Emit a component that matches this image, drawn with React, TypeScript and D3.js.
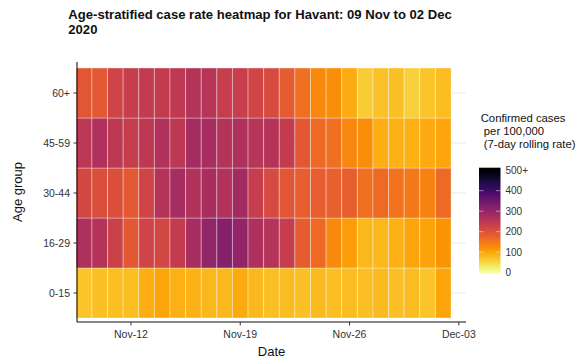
import React from "react";
import * as d3 from "d3";

const ageGroups = ["0-15", "16-29", "30-44", "45-59", "60+"];
const startDate = "2020-11-09";
const nDays = 24;

const rate60plus = [192, 188, 222, 236, 240, 240, 245, 258, 255, 236, 234, 220, 210, 185, 160, 130, 125, 92, 62, 72, 74, 55, 70, 77];
const rate45to59 = [250, 265, 248, 236, 248, 262, 248, 280, 274, 258, 266, 255, 258, 240, 190, 165, 160, 132, 125, 90, 88, 88, 95, 98];
const rate30to44 = [215, 205, 205, 188, 222, 258, 276, 262, 272, 262, 282, 236, 212, 192, 182, 182, 178, 180, 160, 165, 155, 150, 138, 165];
const rate16to29 = [266, 258, 228, 190, 222, 218, 240, 276, 304, 318, 304, 266, 258, 236, 185, 165, 130, 108, 82, 82, 88, 100, 102, 118];
const rate0to15 = [70, 74, 76, 75, 90, 100, 88, 86, 82, 82, 95, 82, 75, 78, 74, 80, 75, 78, 75, 80, 74, 77, 70, 100];

const seriesByGroup: Record<string, number[]> = {
  "0-15": rate0to15,
  "16-29": rate16to29,
  "30-44": rate30to44,
  "45-59": rate45to59,
  "60+": rate60plus,
};

const xTickDates = ["2020-11-12", "2020-11-19", "2020-11-26", "2020-12-03"];
const xTickLabels = ["Nov-12", "Nov-19", "Nov-26", "Dec-03"];
const legendTicks = [0, 100, 200, 300, 400, 500];
const legendLabels = ["0", "100", "200", "300", "400", "500+"];

const W = 586;
const H = 362;
const FONT = "'Liberation Sans', Arial, sans-serif";

export default function App() {
  const parse = d3.utcParse("%Y-%m-%d");
  const d0 = parse(startDate) as Date;
  const days = d3.range(nDays).map((i) => d3.utcDay.offset(d0, i));

  const x = d3
    .scaleUtc()
    .domain([d3.utcHour.offset(d0, -12), d3.utcHour.offset(parse("2020-12-03") as Date, 11.5)])
    .range([76.3, 466]);
  const dayW = x(d3.utcDay.offset(d0, 1)) - x(d0);

  const y = d3.scaleBand<string>().domain(ageGroups).range([318, 68]).padding(0);

  const color = (v: number) => d3.interpolateInferno(1 - Math.min(v, 500) / 500);

  const panelLeft = 77;
  const panelRight = 466;
  const panelTop = 62;
  const panelBottom = 322;

  const ly = d3.scaleLinear().domain([0, 500]).range([272.7, 170.2]);
  const barTop = ly(500) - 2.5;
  const barBot = ly(0) + 0.8;
  const stops = d3.range(0, 21).map((i) => {
    const frac = i / 20;
    const yy = barTop + frac * (barBot - barTop);
    const v = ly.invert(yy);
    return { offset: frac, c: color(Math.max(0, v)) };
  });

  return (
    <svg
      width={W}
      height={H}
      style={{ position: "absolute", left: 0, top: 0, background: "white" }}
      fontFamily={FONT}
    >
      <defs>
        <linearGradient id="lg" x1="0" y1="0" x2="0" y2="1">
          {stops.map((s, i) => (
            <stop key={i} offset={s.offset} stopColor={s.c} />
          ))}
        </linearGradient>
      </defs>

      {/* Title */}
      <text x={68.3} y={18.5} fontSize={13.1} fontWeight="bold" fill="#111">
        Age-stratified case rate heatmap for Havant: 09 Nov to 02 Dec
      </text>
      <text x={68.3} y={33.5} fontSize={13.1} fontWeight="bold" fill="#111">
        2020
      </text>

      {/* grid lines */}
      {ageGroups.map((g) => (
        <line
          key={"g" + g}
          x1={panelLeft}
          x2={panelRight}
          y1={(y(g) as number) + y.bandwidth() / 2}
          y2={(y(g) as number) + y.bandwidth() / 2}
          stroke="#ebebeb"
          strokeWidth={1.1}
        />
      ))}

      {/* tiles */}
      {ageGroups.map((g) =>
        days.map((d, i) => (
          <rect
            key={g + i}
            x={x(d) - dayW / 2}
            y={y(g) as number}
            width={dayW}
            height={y.bandwidth()}
            fill={color(seriesByGroup[g][i])}
            stroke="rgba(255,255,255,0.35)"
            strokeWidth={1}
          />
        ))
      )}

      {/* axes */}
      <line x1={panelLeft} x2={panelRight} y1={panelBottom} y2={panelBottom} stroke="#111" strokeWidth={1.1} />
      <line x1={panelLeft} x2={panelLeft} y1={panelTop} y2={panelBottom} stroke="#111" strokeWidth={1.1} />

      {xTickDates.map((t, i) => {
        const xx = x(parse(t) as Date);
        return (
          <g key={t}>
            <line x1={xx} x2={xx} y1={panelBottom} y2={panelBottom + 3.5} stroke="#333" strokeWidth={1} />
            <text x={xx} y={338} fontSize={10.5} textAnchor="middle" fill="#333">
              {xTickLabels[i]}
            </text>
          </g>
        );
      })}

      {ageGroups.map((g) => {
        const yy = (y(g) as number) + y.bandwidth() / 2;
        return (
          <g key={"yt" + g}>
            <line x1={panelLeft - 3.5} x2={panelLeft} y1={yy} y2={yy} stroke="#333" strokeWidth={1} />
            <text x={70} y={yy} dy="0.35em" fontSize={10.5} textAnchor="end" fill="#333">
              {g}
            </text>
          </g>
        );
      })}

      <text x={(panelLeft + panelRight) / 2} y={356} fontSize={13} textAnchor="middle" fill="#111">
        Date
      </text>
      <text
        transform={`translate(22,${(panelTop + panelBottom) / 2}) rotate(-90)`}
        fontSize={13}
        textAnchor="middle"
        fill="#111"
      >
        Age group
      </text>

      {/* legend */}
      <text x={480.7} y={121.7} fontSize={11.3} fill="#111">
        Confirmed cases
      </text>
      <text x={480.7} y={135} fontSize={11.3} fill="#111" xmlSpace="preserve">
        {" per 100,000"}
      </text>
      <text x={480.7} y={148.3} fontSize={11.3} fill="#111" xmlSpace="preserve">
        {" (7-day rolling rate)"}
      </text>
      <rect x={479} y={barTop} width={21.5} height={barBot - barTop} fill="url(#lg)" />
      {legendTicks.map((t, i) => (
        <g key={"lt" + t}>
          {t > 0 && t < 500 && (
            <>
              <line x1={479} x2={483.5} y1={ly(t)} y2={ly(t)} stroke="rgba(255,255,255,0.6)" strokeWidth={0.8} />
              <line x1={496} x2={500.5} y1={ly(t)} y2={ly(t)} stroke="rgba(255,255,255,0.6)" strokeWidth={0.8} />
            </>
          )}
          <text x={505.5} y={ly(t)} dy="0.35em" fontSize={10} fill="#333">
            {legendLabels[i]}
          </text>
        </g>
      ))}
    </svg>
  );
}
